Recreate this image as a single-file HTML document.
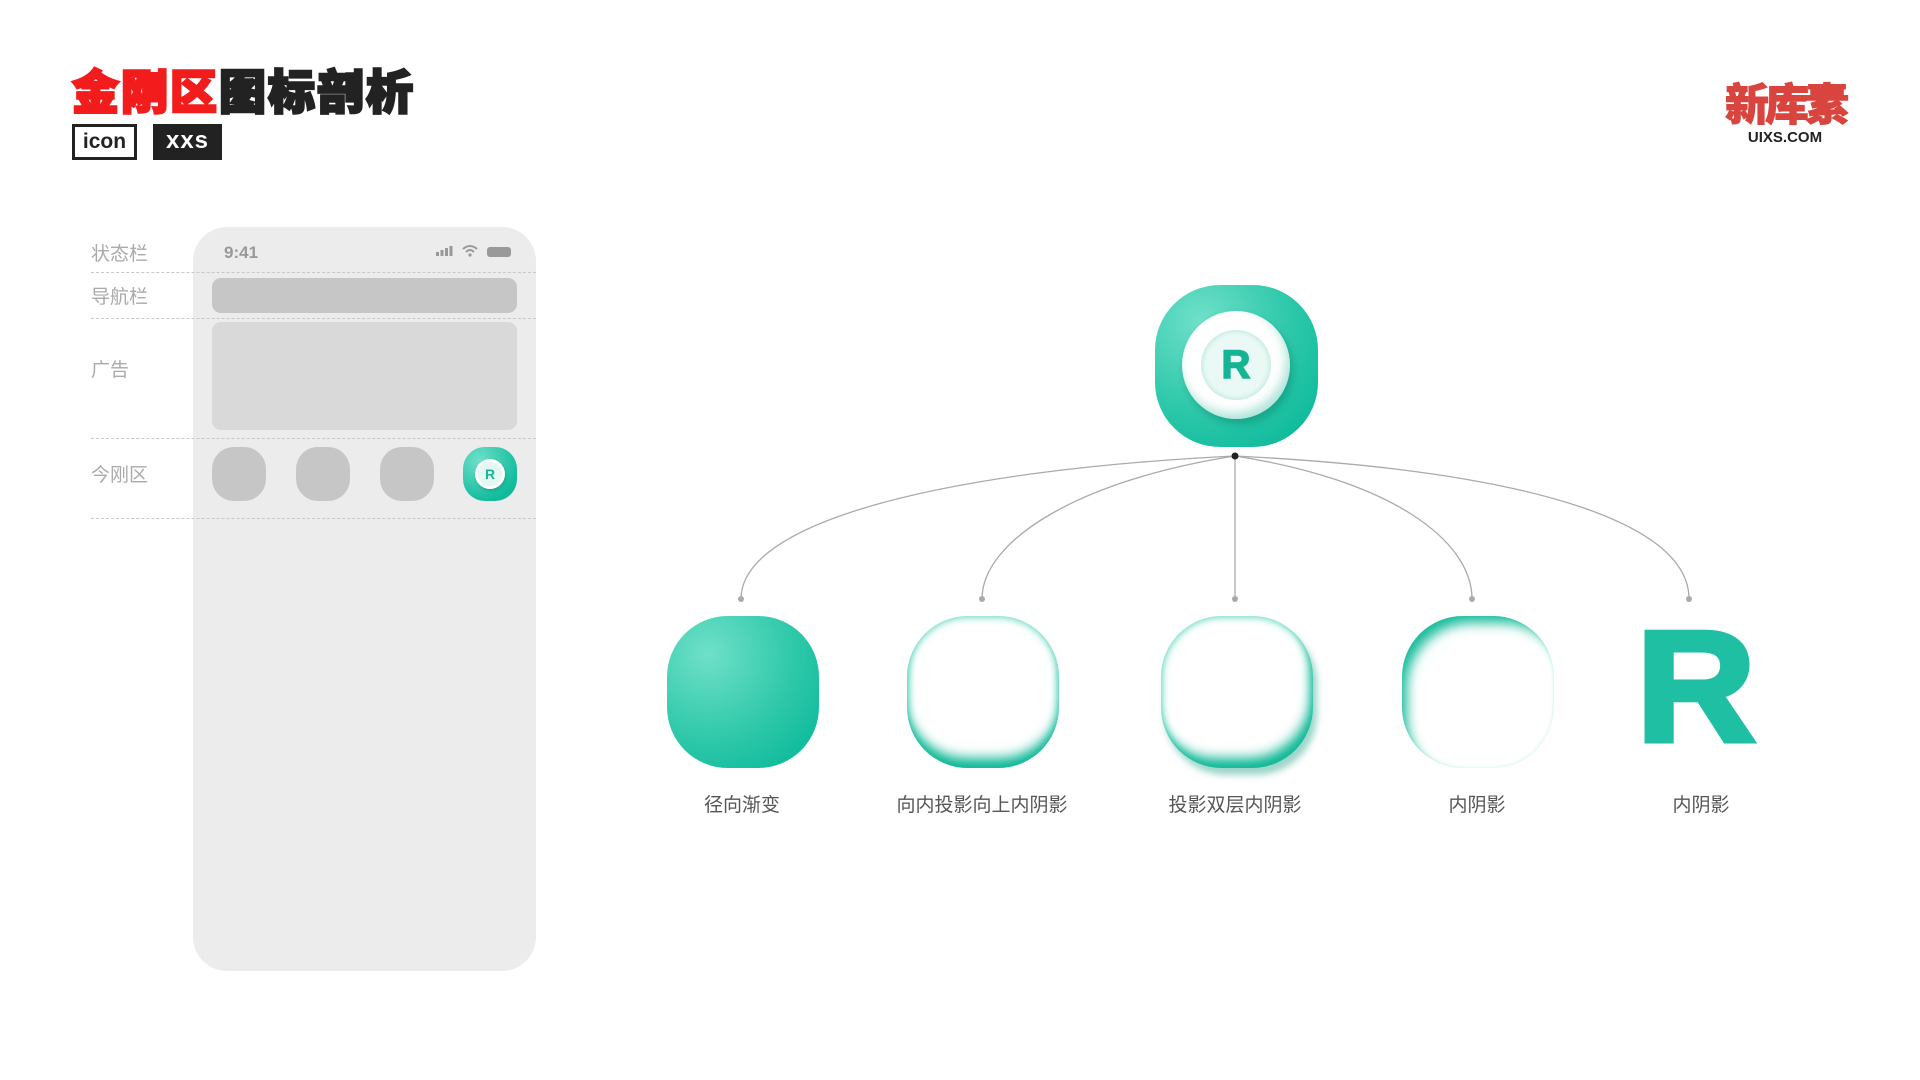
<!DOCTYPE html>
<html><head><meta charset="utf-8"><style>
*{margin:0;padding:0;box-sizing:border-box}
body{width:1920px;height:1080px;background:#fff;position:relative;overflow:hidden;font-family:"Liberation Sans","Noto Sans CJK SC",sans-serif}
.a{position:absolute}
.title{left:72px;top:61px;font-size:47px;font-weight:900;line-height:56px;white-space:nowrap;font-family:"Noto Sans CJK SC",sans-serif;-webkit-text-stroke:2.5px currentColor;letter-spacing:2px}
.tag{top:124px;height:36px;font-weight:bold;font-size:21px;line-height:30px;text-align:center}
.lbl{left:91px;font-size:19px;color:#aaa;font-family:"Noto Sans CJK SC",sans-serif;line-height:24px}
.dash{left:91px;width:445px;border-top:1.5px dashed #c8c8c8;height:0}
.gi{background:#c6c6c6;border-radius:22px;width:54px;height:54px;top:447px}
.cap{top:790px;font-size:19px;color:#555;font-family:"Noto Sans CJK SC",sans-serif;transform:translateX(-50%);white-space:nowrap}
.sq{width:152px;height:152px;border-radius:40%;top:616px}
</style></head><body>
<div class="a title"><span style="color:#f31c1c">金刚区</span><span style="color:#222">图标剖析</span></div>
<div class="a tag" style="left:72px;width:65px;border:3px solid #222;color:#222">icon</div>
<div class="a tag" style="left:153px;width:69px;background:#222;color:#fff;line-height:34px;font-size:24px;font-weight:900;letter-spacing:1px">xxs</div>

<div class="a" style="left:1720px;top:74px;width:130px;text-align:center;color:#d9443f;font-size:44px;font-weight:900;font-family:'Noto Sans CJK SC',sans-serif;line-height:54px;letter-spacing:-4px;-webkit-text-stroke:1px #d9443f">新库素</div>
<div class="a" style="left:1720px;top:129px;width:130px;text-align:center;color:#222;font-size:15px;font-weight:bold">UIXS.COM</div>

<!-- phone -->
<div class="a" style="left:193px;top:227px;width:343px;height:744px;background:#ececec;border-radius:34px"></div>
<div class="a" style="left:224px;top:243px;font-size:17px;color:#999;font-weight:bold">9:41</div>
<svg class="a" style="left:430px;top:242px" width="90" height="20">
<rect x="6" y="10" width="3" height="4" fill="#999"/><rect x="10.5" y="8" width="3" height="6" fill="#999"/><rect x="15" y="6" width="3" height="8" fill="#999"/><rect x="19.5" y="4" width="3" height="10" fill="#999"/>
<path d="M33 7 Q40 1 47 7" stroke="#999" stroke-width="2" fill="none"/><path d="M36 10 Q40 6 44 10" stroke="#999" stroke-width="2" fill="none"/><circle cx="40" cy="13" r="1.6" fill="#999"/>
<rect x="57" y="5" width="24" height="10" rx="3" fill="#999"/>
</svg>
<div class="a lbl" style="top:241px">状态栏</div>
<div class="a dash" style="top:272px"></div>
<div class="a lbl" style="top:284px">导航栏</div>
<div class="a" style="left:212px;top:278px;width:305px;height:35px;background:#c6c6c6;border-radius:9px"></div>
<div class="a dash" style="top:318px"></div>
<div class="a" style="left:212px;top:322px;width:305px;height:108px;background:#d9d9d9;border-radius:9px"></div>
<div class="a lbl" style="top:357px">广告</div>
<div class="a dash" style="top:438px"></div>
<div class="a lbl" style="top:462px">今刚区</div>
<div class="a gi" style="left:212px"></div>
<div class="a gi" style="left:296px"></div>
<div class="a gi" style="left:380px"></div>
<div class="a" style="left:463px;top:447px;width:54px;height:54px;border-radius:22px;background:radial-gradient(circle at 30% 25%,#6fe0c9,#10bb9c 75%)"></div>
<div class="a" style="left:475px;top:459px;width:30px;height:30px;border-radius:50%;background:radial-gradient(circle,#e4f7f2 55%,#fff 60%);box-shadow:1px 2px 3px rgba(0,100,80,.3)"></div>
<div class="a" style="left:475px;top:459px;width:30px;height:30px;text-align:center;line-height:30px;font-size:14px;font-weight:bold;color:#17b596">R</div>
<div class="a dash" style="top:518px"></div>

<!-- main icon -->
<div class="a" style="left:1155px;top:285px;width:163px;height:162px;border-radius:40%;background:radial-gradient(circle at 28% 22%,#6fe0c9,#30c9ab 50%,#0fbb9c 85%)"></div>
<div class="a" style="left:1182px;top:311px;width:108px;height:108px;border-radius:50%;background:#fff;box-shadow:3px 5px 8px rgba(0,110,90,.35),inset -4px -6px 10px rgba(120,210,190,.6)"></div>
<div class="a" style="left:1201px;top:330px;width:70px;height:70px;border-radius:50%;background:radial-gradient(circle,#eaf9f5 60%,#d3f1ea);box-shadow:inset 0 0 6px rgba(90,200,175,.4)"></div>
<div class="a" style="left:1201px;top:330px;width:70px;height:70px;text-align:center;line-height:70px;font-size:40px;font-weight:bold;color:#15b494;-webkit-text-stroke:1.5px #15b494">R</div>

<svg class="a" style="left:0;top:0" width="1920" height="1080">
<g stroke="#aaa" stroke-width="1.3" fill="none">
<path d="M1235 456 C950 470 741 520 741 599"/>
<path d="M1235 456 C1080 480 982 540 982 599"/>
<path d="M1235 456 L1235 599"/>
<path d="M1235 456 C1390 480 1472 540 1472 599"/>
<path d="M1235 456 C1520 470 1689 520 1689 599"/>
</g>
<g fill="#aaa"><circle cx="741" cy="599" r="3"/><circle cx="982" cy="599" r="3"/><circle cx="1235" cy="599" r="3"/><circle cx="1472" cy="599" r="3"/><circle cx="1689" cy="599" r="3"/></g>
<circle cx="1235" cy="456" r="3.5" fill="#222"/>
</svg>

<div class="a sq" style="left:667px;background:radial-gradient(circle at 27% 25%,#6fe0c9,#33caab 50%,#0bb99b 90%)"></div>
<div class="a sq" style="left:907px;background:#fff;box-shadow:inset 0 -14px 12px -4px #12b897,inset 0 0 8px 1px #54d3ba"></div>
<div class="a sq" style="left:1161px;background:#fff;box-shadow:inset -6px -14px 12px -4px #12b897,inset 0 0 8px 1px #54d3ba,4px 7px 7px rgba(10,150,120,.4)"></div>
<div class="a sq" style="left:1402px;background:#fff;box-shadow:inset 9px 11px 12px -4px #19bc9c,inset 0 0 4px #c8efe6"></div>
<div class="a" style="left:1626px;top:612px;width:140px;height:150px;text-align:center;font-size:158px;line-height:150px;font-weight:bold;color:#1fbfa3;-webkit-text-stroke:5px #1fbfa3;text-shadow:0 0 3px #109a80;transform:scaleX(1.05)">R</div>

<div class="a cap" style="left:742px">径向渐变</div>
<div class="a cap" style="left:982px">向内投影向上内阴影</div>
<div class="a cap" style="left:1235px">投影双层内阴影</div>
<div class="a cap" style="left:1477px">内阴影</div>
<div class="a cap" style="left:1701px">内阴影</div>
</body></html>
